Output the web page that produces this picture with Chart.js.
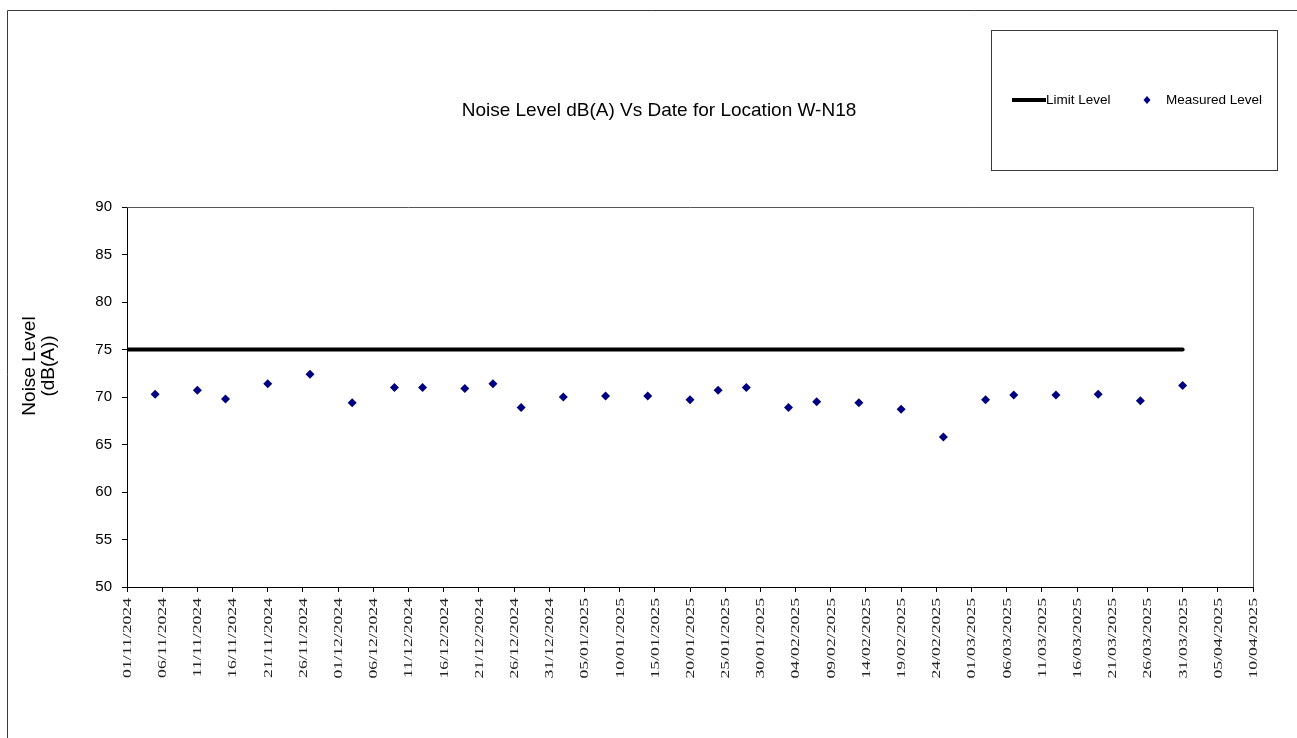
<!DOCTYPE html>
<html>
<head>
<meta charset="utf-8">
<script src="https://cdn.jsdelivr.net/npm/chart.js@4.4.1/dist/chart.umd.min.js"></script>
<style>
  html, body { margin: 0; padding: 0; background: #fff; }
  #wrap { width: 1297px; height: 738px; position: relative; }
</style>
</head>
<body>
<div id="wrap"><canvas id="c" width="1297" height="738"></canvas></div>
<script>
// ---- Data ----
const chartTitle = 'Noise Level dB(A) Vs Date for Location W-N18';
const yAxisTitle = ['Noise Level', '(dB(A))'];
const seriesNames = ['Limit Level', 'Measured Level'];

const measuredDates = [
  '05/11/2024', '11/11/2024', '15/11/2024', '21/11/2024', '27/11/2024',
  '03/12/2024', '09/12/2024', '13/12/2024', '19/12/2024', '23/12/2024', '27/12/2024',
  '02/01/2025', '08/01/2025', '14/01/2025', '20/01/2025', '24/01/2025', '28/01/2025',
  '03/02/2025', '07/02/2025', '13/02/2025', '19/02/2025', '25/02/2025',
  '03/03/2025', '07/03/2025', '13/03/2025', '19/03/2025', '25/03/2025', '31/03/2025'
];
const measuredValues = [
  70.3, 70.7, 69.8, 71.4, 72.4,
  69.4, 71.0, 71.0, 70.9, 71.4, 68.9,
  70.0, 70.1, 70.1, 69.7, 70.7, 71.0,
  68.9, 69.5, 69.4, 68.7, 65.8,
  69.7, 70.2, 70.2, 70.3, 69.6, 71.2
];
const limitDates = ['01/11/2024', '31/03/2025'];
const limitValues = [75, 75];

const axisStartDate = '01/11/2024';
const axisEndDate = '10/04/2025';
const xTickStepDays = 5;
const yMin = 50, yMax = 90, yStep = 5;

// ---- Helpers ----
function parseDMY(s) {
  const [d, m, y] = s.split('/').map(Number);
  return Date.UTC(y, m - 1, d);
}
const baseMs = parseDMY(axisStartDate);
function dayIndex(s) { return Math.round((parseDMY(s) - baseMs) / 86400000); }
function fmtDay(v) {
  const dt = new Date(baseMs + v * 86400000);
  const dd = String(dt.getUTCDate()).padStart(2, '0');
  const mm = String(dt.getUTCMonth() + 1).padStart(2, '0');
  return dd + '/' + mm + '/' + dt.getUTCFullYear();
}

const measuredPts = measuredDates.map((d, i) => ({ x: dayIndex(d), y: measuredValues[i] }));
const limitPts = limitDates.map((d, i) => ({ x: dayIndex(d), y: limitValues[i] }));

const SANS = '"Liberation Sans", Arial, sans-serif';
const SERIF = '"Liberation Serif", "Times New Roman", serif';

const decor = {
  id: 'decor',
  beforeDraw(chart) {
    const ctx = chart.ctx;
    ctx.save();
    ctx.fillStyle = '#fff';
    ctx.fillRect(0, 0, chart.width, chart.height);
    ctx.restore();
  },
  afterDraw(chart) {
    const ctx = chart.ctx;
    const a = chart.chartArea;
    ctx.save();
    // outer frame (top + left)
    ctx.strokeStyle = '#3a3a3a';
    ctx.lineWidth = 1;
    ctx.beginPath();
    ctx.moveTo(7.5, chart.height);
    ctx.lineTo(7.5, 10.5);
    ctx.lineTo(chart.width, 10.5);
    ctx.stroke();

    // plot area border
    ctx.strokeStyle = '#555';
    ctx.beginPath();
    ctx.moveTo(a.left, a.top + 0.5);
    ctx.lineTo(a.right + 0.5, a.top + 0.5);
    ctx.lineTo(a.right + 0.5, a.bottom);
    ctx.stroke();

    // x tick labels (stretched serif, rotated)
    const xs = chart.scales.x;
    ctx.fillStyle = '#222';
    ctx.font = '13px ' + SERIF;
    ctx.textAlign = 'right';
    ctx.textBaseline = 'middle';
    xs.ticks.forEach(t => {
      const px = xs.getPixelForValue(t.value);
      ctx.save();
      ctx.translate(px + 0.5, a.bottom + 11);
      ctx.rotate(-Math.PI / 2);
      ctx.scale(1.36, 1);
      ctx.fillText(fmtDay(t.value), 0, 0);
      ctx.restore();
    });

    // title
    ctx.fillStyle = '#000';
    ctx.font = '19px ' + SANS;
    ctx.textAlign = 'center';
    ctx.textBaseline = 'middle';
    ctx.fillText(chartTitle, 659, 111);

    // y axis title
    ctx.save();
    ctx.translate(30, 366);
    ctx.rotate(-Math.PI / 2);
    ctx.font = '19px ' + SANS;
    ctx.fillText(yAxisTitle[0], 0, 0);
    ctx.fillText(yAxisTitle[1], 0, 19);
    ctx.restore();

    // legend box
    ctx.strokeStyle = '#3a3a3a';
    ctx.lineWidth = 1;
    ctx.strokeRect(991.5, 30.5, 286, 140);
    ctx.lineWidth = 4;
    ctx.strokeStyle = '#000';
    ctx.beginPath();
    ctx.moveTo(1012, 100);
    ctx.lineTo(1046, 100);
    ctx.stroke();
    ctx.font = '13.5px ' + SANS;
    ctx.textAlign = 'left';
    ctx.fillStyle = '#000';
    ctx.fillText(seriesNames[0], 1046, 100);
    ctx.fillStyle = '#000080';
    ctx.beginPath();
    ctx.moveTo(1147, 96);
    ctx.lineTo(1150.5, 100);
    ctx.lineTo(1147, 104);
    ctx.lineTo(1143.5, 100);
    ctx.closePath();
    ctx.fill();
    ctx.fillStyle = '#000';
    ctx.fillText(seriesNames[1], 1166, 100);
    ctx.restore();
  }
};

new Chart(document.getElementById('c'), {
  type: 'scatter',
  data: {
    datasets: [
      {
        label: seriesNames[0],
        type: 'line',
        data: limitPts,
        borderColor: '#000',
        backgroundColor: '#000',
        borderWidth: 4,
        pointRadius: 0,
        borderCapStyle: 'round',
        showLine: true,
        order: 2
      },
      {
        label: seriesNames[1],
        data: measuredPts,
        pointStyle: 'rectRot',
        pointRadius: 4.5,
        pointBackgroundColor: '#000080',
        pointBorderColor: '#000080',
        pointBorderWidth: 0,
        showLine: false,
        order: 1
      }
    ]
  },
  options: {
    responsive: false,
    animation: false,
    events: [],
    layout: { padding: { left: 0, top: 207, right: 44, bottom: 0 } },
    plugins: {
      legend: { display: false },
      title: { display: false },
      tooltip: { enabled: false }
    },
    scales: {
      x: {
        type: 'linear',
        min: dayIndex(axisStartDate),
        max: dayIndex(axisEndDate),
        afterFit(s) { s.height = 151; },
        border: { color: '#000', width: 1 },
        grid: { display: true, drawOnChartArea: false, drawTicks: true, tickLength: 5, color: '#000' },
        ticks: {
          display: false,
          stepSize: xTickStepDays,
          autoSkip: false,
          callback: (v) => fmtDay(v)
        }
      },
      y: {
        min: yMin,
        max: yMax,
        afterFit(s) { s.width = 127; },
        border: { color: '#000', width: 1 },
        grid: { display: true, drawOnChartArea: false, drawTicks: true, tickLength: 5, color: '#000' },
        ticks: {
          stepSize: yStep,
          padding: 10,
          color: '#000',
          font: { family: SANS, size: 15 }
        }
      }
    }
  },
  plugins: [decor]
});
</script>
</body>
</html>
